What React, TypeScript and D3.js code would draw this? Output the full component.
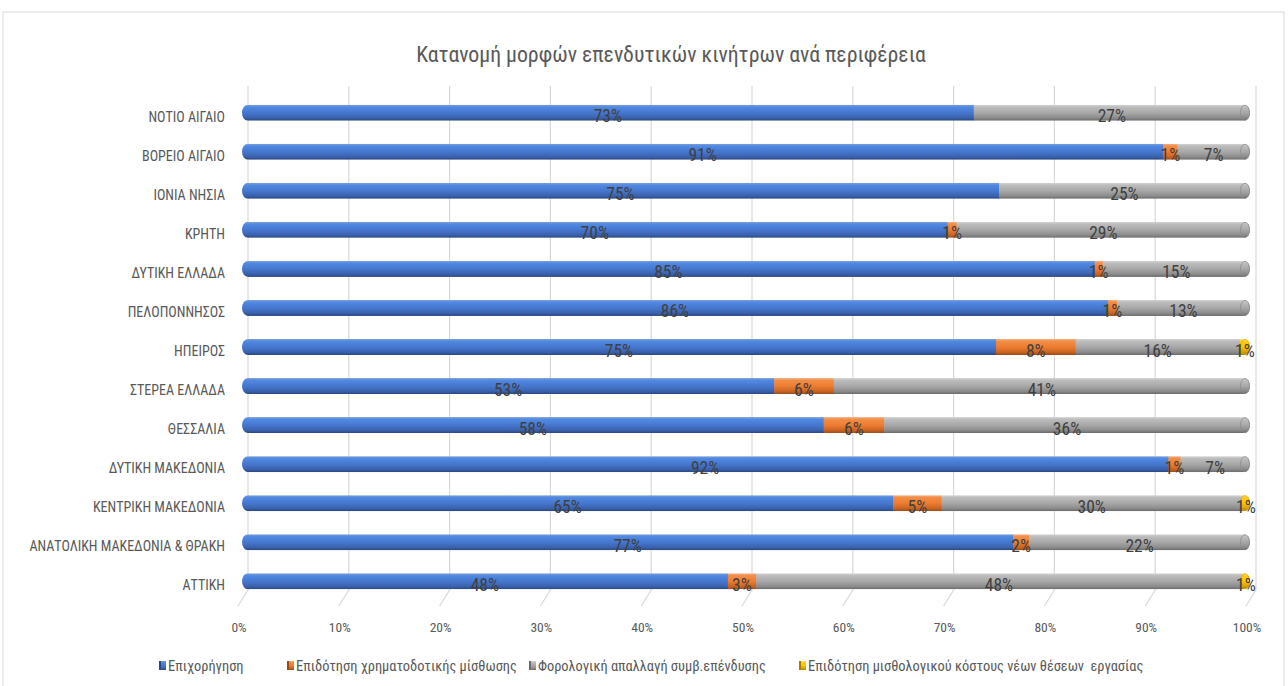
import React from "react";
import * as d3 from "d3";

const title = "Κατανομή μορφών επενδυτικών κινήτρων ανά περιφέρεια";

const regions = [
  "ΝΟΤΙΟ ΑΙΓΑΙΟ",
  "ΒΟΡΕΙΟ ΑΙΓΑΙΟ",
  "ΙΟΝΙΑ ΝΗΣΙΑ",
  "ΚΡΗΤΗ",
  "ΔΥΤΙΚΗ ΕΛΛΑΔΑ",
  "ΠΕΛΟΠΟΝΝΗΣΟΣ",
  "ΗΠΕΙΡΟΣ",
  "ΣΤΕΡΕΑ ΕΛΛΑΔΑ",
  "ΘΕΣΣΑΛΙΑ",
  "ΔΥΤΙΚΗ ΜΑΚΕΔΟΝΙΑ",
  "ΚΕΝΤΡΙΚΗ ΜΑΚΕΔΟΝΙΑ",
  "ΑΝΑΤΟΛΙΚΗ ΜΑΚΕΔΟΝΙΑ & ΘΡΑΚΗ",
  "ΑΤΤΙΚΗ",
];

const seriesNames = [
  "Επιχορήγηση",
  "Επιδότηση χρηματοδοτικής μίσθωσης",
  "Φορολογική απαλλαγή συμβ.επένδυσης",
  "Επιδότηση μισθολογικού κόστους νέων θέσεων  εργασίας",
];

// percentages per region (same order as regions)
const grant = [72.6, 91.4, 75.1, 70.0, 84.6, 85.9, 74.8, 52.8, 57.7, 91.9, 64.6, 76.5, 48.2];
const leasing = [0, 1.4, 0, 0.9, 0.8, 0.9, 7.9, 5.9, 6.0, 1.2, 4.8, 1.6, 2.8];
const taxRelief = [27.4, 7.2, 24.9, 29.1, 14.6, 13.2, 16.3, 41.3, 36.3, 6.9, 29.8, 21.9, 48.2];
const wageSubsidy = [0, 0, 0, 0, 0, 0, 1.0, 0, 0, 0, 0.8, 0, 0.8];

const xTicks = [0, 10, 20, 30, 40, 50, 60, 70, 80, 90, 100];

const palettes = [
  ["#7f9fd8", "#5089e2", "#4677cf", "#3a62ad", "#2a4780"],
  ["#f3b088", "#f28d45", "#ed7d31", "#c96422", "#9a4c18"],
  ["#d4d4d4", "#bcbcbc", "#a8a8a8", "#8c8c8c", "#6a6a6a"],
  ["#ffe08a", "#ffcc1a", "#ffc000", "#d9a300", "#a67d00"],
];

const FONT = "'Liberation Sans Narrow', 'Roboto Condensed', 'DejaVu Sans Condensed', 'Open Sans', sans-serif";

export default function App() {
  const W = 1288;
  const H = 686;

  const x = d3.scaleLinear().domain([0, 100]).range([242, 1250]);
  const depthX = 6;
  const y = d3
    .scaleBand<string>()
    .domain(regions)
    .range([93, 601])
    .paddingInner(0.59)
    .paddingOuter(0.3);
  const barH = 16;

  const table = regions.map((r, i) => ({
    region: r,
    s0: grant[i],
    s1: leasing[i],
    s2: taxRelief[i],
    s3: wageSubsidy[i],
  }));
  const keys = ["s0", "s1", "s2", "s3"];
  const stacked = d3.stack<any>().keys(keys)(table);

  const gridTop = 86;
  const gridBottom = 590;

  const cy = (r: string) => (y(r) as number) + y.bandwidth() / 2;

  return (
    <svg
      width={W}
      height={H}
      style={{ position: "absolute", left: 0, top: 0, background: "#fff" }}
      fontFamily={FONT}
    >
      <defs>
        {palettes.map((p, i) => (
          <linearGradient key={i} id={`cyl${i}`} x1="0" y1="0" x2="0" y2="1">
            <stop offset="0" stopColor={p[0]} />
            <stop offset="0.15" stopColor={p[1]} />
            <stop offset="0.5" stopColor={p[2]} />
            <stop offset="0.82" stopColor={p[3]} />
            <stop offset="1" stopColor={p[4]} />
          </linearGradient>
        ))}
        {regions.map((r, i) => (
          <clipPath key={i} id={`clip${i}`}>
            <rect
              x={x(0)}
              y={cy(r) - barH / 2}
              width={x(100) - x(0)}
              height={barH}
              rx={6}
              ry={8}
            />
          </clipPath>
        ))}
      </defs>

      <rect x={3} y={12} width={1281} height={700} fill="#fff" stroke="#d9d9d9" strokeWidth={1} />

      <text
        x={671}
        y={62}
        textAnchor="middle"
        fontSize={21.8}
        fill="#595959"
      >
        {title}
      </text>

      {/* gridlines with 3D floor */}
      {xTicks.map((t) => {
        const gx = x(t) + depthX;
        return (
          <g key={t}>
            <path
              d={`M${gx},${gridTop} L${gx},${gridBottom} L${gx - 10},${gridBottom + 16}`}
              fill="none"
              stroke="#d9d9d9"
              strokeWidth={1.2}
            />
            <text
              x={gx - 9}
              y={632}
              textAnchor="middle"
              fontSize={13.5}
              fill="#595959"
            >
              {t}%
            </text>
          </g>
        );
      })}

      {/* category labels */}
      {regions.map((r) => (
        <text
          key={r}
          x={225}
          y={cy(r) + 9}
          textAnchor="end"
          fontSize={14}
          fill="#595959"
        >
          {r}
        </text>
      ))}

      {/* bars */}
      {regions.map((r, i) => {
        const c = cy(r);
        let lastIdx = 0;
        stacked.forEach((s, si) => {
          if (s[i][1] - s[i][0] > 0) lastIdx = si;
        });
        return (
          <g key={r}>
            <g clipPath={`url(#clip${i})`}>
              {stacked.map((s, si) => {
                const d = s[i];
                const w = x(d[1]) - x(d[0]);
                if (w <= 0) return null;
                return (
                  <rect
                    key={si}
                    x={x(d[0])}
                    y={c - barH / 2}
                    width={w + 0.5}
                    height={barH}
                    fill={`url(#cyl${si})`}
                  />
                );
              })}
            </g>
            <ellipse
              cx={x(100) - 5}
              cy={c}
              rx={4.5}
              ry={barH / 2 - 0.5}
              fill={`url(#cyl${lastIdx})`}
              stroke={palettes[lastIdx][3]}
              strokeWidth={0.8}
            />
            {stacked.map((s, si) => {
              const d = s[i];
              const v = d[1] - d[0];
              if (v <= 0) return null;
              return (
                <text
                  key={si}
                  x={(x(d[0]) + x(d[1])) / 2}
                  y={c + 9.5}
                  textAnchor="middle"
                  fontSize={17.5}
                  fill="#404040"
                >
                  {Math.round(v)}%
                </text>
              );
            })}
          </g>
        );
      })}

      {/* legend */}
      {seriesNames.map((n, i) => {
        const lx = [159, 287, 529, 799][i];
        return (
          <g key={n}>
            <rect x={lx} y={661} width={7} height={9} fill={`url(#cyl${i})`} />
            <rect x={lx} y={661} width={2} height={9} fill={palettes[i][4]} />
            <text
              x={lx + 9}
              y={670.5}
              fontSize={14.4}
              fill="#595959"
              style={{ whiteSpace: "pre" }}
            >
              {n}
            </text>
          </g>
        );
      })}
    </svg>
  );
}
